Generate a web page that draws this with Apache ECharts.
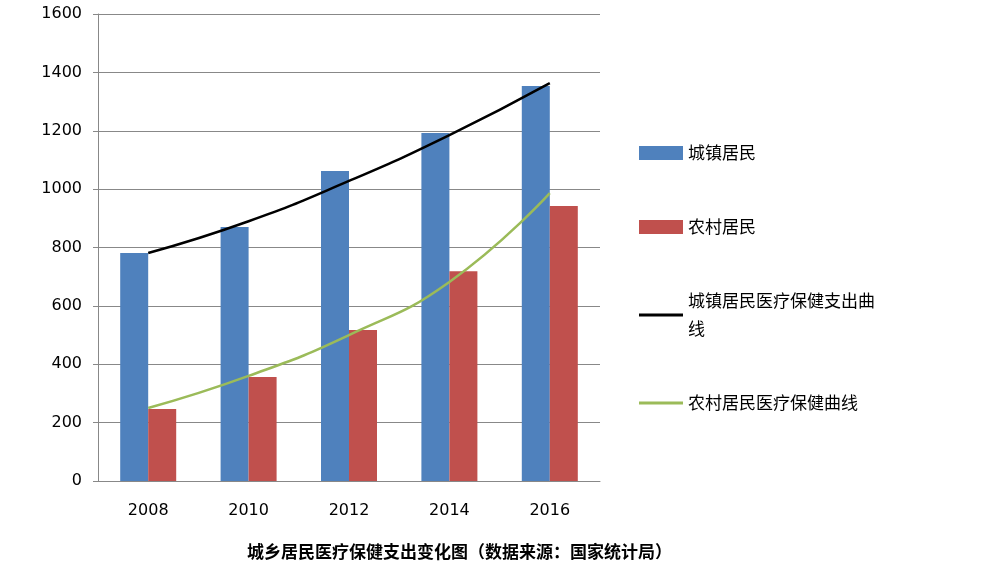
<!DOCTYPE html><html><head><meta charset="utf-8"><script src="https://cdn.jsdelivr.net/npm/echarts@6/dist/echarts.min.js"></script></head><body style="margin:0"><div id="c" style="width:994px;height:563px"></div><script>
const years=['2008','2010','2012','2014','2016'];
const urban=[781,870,1062,1192,1353];
const rural=[247,356,517,719,942];
const urbanTrend=[781,890,1028,1185,1363];
const ruralTrend=[250,360,500,682,986];
const yTicks=[0,200,400,600,800,1000,1200,1400,1600];
const ch=echarts.init(document.getElementById('c'));
const f='"Noto Sans CJK SC",sans-serif';
const lineIcon='path://M0,0L44,0L44,3L0,3Z';
ch.setOption({animation:false,
title:{text:'城乡居民医疗保健支出变化图（数据来源：国家统计局）',left:242,top:538,textStyle:{fontSize:17,fontWeight:'bold',color:'#000',fontFamily:f}},
grid:{left:98,right:394,top:14,bottom:82},
legend:{orient:'vertical',left:634,top:134,itemGap:46,itemWidth:44,itemHeight:14,textStyle:{fontSize:17,color:'#000',fontFamily:f,lineHeight:28},
formatter:n=>n==='城镇居民医疗保健支出曲线'?'城镇居民医疗保健支出曲\n线':n,
data:[{name:'城镇居民',icon:'rect'},{name:'农村居民',icon:'rect'},{name:'城镇居民医疗保健支出曲线',icon:lineIcon,itemStyle:{color:'#000'}},{name:'农村居民医疗保健曲线',icon:lineIcon,itemStyle:{color:'#9bbb59'}}]},
xAxis:{type:'category',data:years,axisLine:{lineStyle:{color:'#888'}},axisTick:{lineStyle:{color:'#888'},length:5},axisLabel:{fontSize:16,color:'#000',margin:22,fontFamily:'DejaVu Sans'}},
yAxis:{type:'value',min:0,max:1600,interval:200,axisLine:{show:true,lineStyle:{color:'#888'}},axisTick:{show:true,lineStyle:{color:'#888'}},splitLine:{lineStyle:{color:'#888'}},axisLabel:{fontSize:16,color:'#000',margin:16,fontFamily:'DejaVu Sans',formatter:v=>yTicks.includes(v)?String(v):''}},
series:[
{name:'城镇居民',type:'bar',data:urban,barWidth:28,barGap:'0%',itemStyle:{color:'#4f81bd'}},
{name:'农村居民',type:'bar',data:rural,barWidth:28,itemStyle:{color:'#c0504d'}},
{name:'城镇居民医疗保健支出曲线',type:'line',data:urbanTrend,smooth:true,symbol:'none',lineStyle:{color:'#000',width:2.5},itemStyle:{color:'#000'}},
{name:'农村居民医疗保健曲线',type:'line',data:ruralTrend,smooth:true,symbol:'none',lineStyle:{color:'#9bbb59',width:2.5},itemStyle:{color:'#9bbb59'}}
]});
</script></body></html>
